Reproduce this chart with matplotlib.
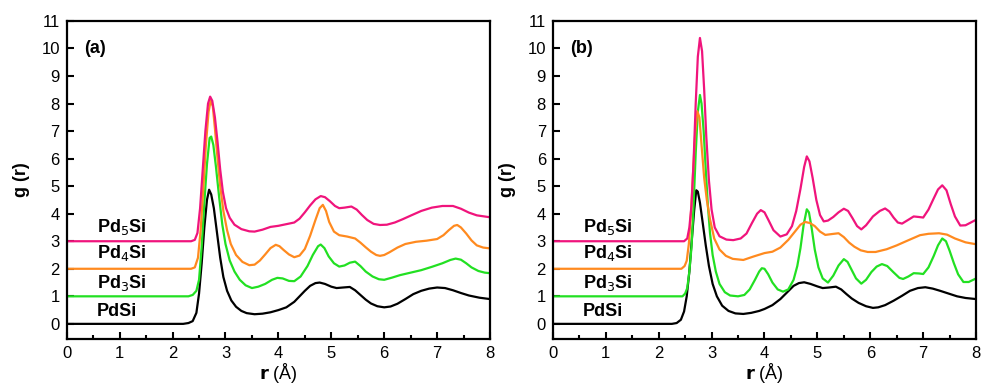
import matplotlib
matplotlib.use('Agg')
from matplotlib import pyplot, rc

rc('font', family=['Liberation Sans', 'DejaVu Sans'], size=12)

# ---- panel (a) ----
a_pdsi_r = [0, 2.2, 2.3, 2.38, 2.45, 2.5, 2.55, 2.6, 2.65, 2.69, 2.73, 2.78,
            2.84, 2.9, 2.96, 3.03, 3.11, 3.2, 3.3, 3.4, 3.55, 3.7, 3.85, 4.0,
            4.15, 4.3, 4.4, 4.5, 4.6, 4.7, 4.78, 4.88, 5.0, 5.1, 5.22, 5.35,
            5.45, 5.55, 5.65, 5.75, 5.87, 6.0, 6.12, 6.25, 6.4, 6.55, 6.7,
            6.85, 7.0, 7.15, 7.3, 7.45, 7.6, 7.8, 8.0]
a_pdsi_g = [0, 0, 0.03, 0.1, 0.4, 1.1, 2.2, 3.5, 4.5, 4.87, 4.7, 4.2,
            3.3, 2.4, 1.7, 1.2, 0.85, 0.62, 0.47, 0.39, 0.35, 0.37, 0.42, 0.5,
            0.6, 0.8, 1.0, 1.2, 1.38, 1.48, 1.5, 1.45, 1.35, 1.3, 1.32, 1.34,
            1.22, 1.05, 0.88, 0.74, 0.64, 0.6, 0.63, 0.73, 0.9, 1.08, 1.2,
            1.28, 1.32, 1.3, 1.22, 1.12, 1.03, 0.95, 0.9]

a_pd3_r = [0, 2.3, 2.38, 2.45, 2.5, 2.55, 2.6, 2.65, 2.7, 2.73, 2.77, 2.82,
           2.88, 2.94, 3.0, 3.08, 3.17, 3.27, 3.38, 3.5, 3.62, 3.75, 3.88,
           3.98, 4.08, 4.2, 4.3, 4.42, 4.55, 4.65, 4.75, 4.8, 4.87, 4.95,
           5.05, 5.15, 5.25, 5.35, 5.45, 5.55, 5.65, 5.78, 5.9, 6.0, 6.15,
           6.3, 6.5, 6.7, 6.9, 7.1, 7.25, 7.35, 7.45, 7.55, 7.65, 7.78, 7.9,
           8.0]
a_pd3_g = [1, 1, 1.05, 1.2, 1.6, 2.8, 4.4, 5.8, 6.75, 6.8, 6.5, 5.7,
           4.6, 3.6, 2.9, 2.3, 1.9, 1.6, 1.4, 1.3, 1.35, 1.45, 1.6,
           1.67, 1.65, 1.56, 1.55, 1.72, 2.1, 2.5, 2.82, 2.88, 2.75, 2.45,
           2.2, 2.08, 2.12, 2.22, 2.26, 2.1, 1.9, 1.72, 1.62, 1.6, 1.68,
           1.77, 1.86, 1.95, 2.07, 2.2, 2.32, 2.37, 2.33, 2.2, 2.05, 1.92, 1.86,
           1.84]

a_pd4_r = [0, 2.35, 2.42, 2.48, 2.53, 2.58, 2.63, 2.68, 2.72, 2.76, 2.8, 2.85,
           2.9, 2.96, 3.03, 3.1, 3.2, 3.32, 3.45, 3.55, 3.65, 3.75, 3.85, 3.95,
           4.02, 4.1, 4.2, 4.3, 4.4, 4.5, 4.6, 4.7, 4.78, 4.84, 4.9, 4.96,
           5.05, 5.15, 5.3, 5.45, 5.55, 5.65, 5.75, 5.85, 5.92, 6.0, 6.1,
           6.25, 6.4, 6.6, 6.8, 7.0, 7.12, 7.22, 7.32, 7.38, 7.45, 7.55, 7.65,
           7.75, 7.87, 8.0]
a_pd4_g = [2, 2, 2.05, 2.4, 3.4, 4.9, 6.5, 7.7, 8.1, 7.9, 7.1, 6.0,
           5.0, 4.1, 3.4, 2.9, 2.5, 2.25, 2.13, 2.15, 2.3, 2.52, 2.75, 2.87,
           2.82, 2.68, 2.52, 2.42, 2.48, 2.72, 3.2, 3.77, 4.2, 4.32, 4.1, 3.7,
           3.35, 3.22, 3.17, 3.1, 2.95, 2.78, 2.62, 2.5, 2.47, 2.5, 2.6,
           2.77, 2.9, 2.98, 3.02, 3.08, 3.22, 3.4, 3.56, 3.59, 3.5, 3.28, 3.03,
           2.85, 2.77, 2.74]

a_pd5_r = [0, 2.35, 2.42, 2.47, 2.52, 2.57, 2.62, 2.67, 2.71, 2.75, 2.8, 2.85,
           2.9, 2.95, 3.01, 3.08, 3.17, 3.3, 3.45, 3.55, 3.7, 3.85, 4.0, 4.15,
           4.3, 4.4, 4.5, 4.6, 4.7, 4.8, 4.88, 4.97, 5.07, 5.15, 5.25, 5.38,
           5.48, 5.58, 5.68, 5.8, 5.92, 6.05, 6.2, 6.35, 6.5, 6.7, 6.9, 7.1,
           7.3, 7.45, 7.6, 7.75, 8.0]
a_pd5_g = [3, 3, 3.05, 3.3, 4.2, 5.6, 7.0, 8.0, 8.25, 8.1, 7.5, 6.6,
           5.6, 4.8, 4.2, 3.85, 3.6, 3.44, 3.36, 3.35, 3.42, 3.52, 3.56, 3.62,
           3.68, 3.82, 4.05, 4.3, 4.52, 4.64, 4.6, 4.46, 4.28, 4.2, 4.22, 4.26,
           4.15, 3.95, 3.77, 3.63, 3.59, 3.6, 3.68, 3.8, 3.93, 4.1, 4.22, 4.28,
           4.28, 4.18, 4.04, 3.94, 3.87]

# ---- panel (b) ----
b_pdsi_r = [0, 2.25, 2.34, 2.42, 2.48, 2.53, 2.58, 2.62, 2.67, 2.71, 2.74,
            2.78, 2.83, 2.89, 2.95, 3.02, 3.1, 3.2, 3.32, 3.45, 3.6, 3.75, 3.9,
            4.0, 4.15, 4.3, 4.42, 4.55, 4.65, 4.75, 4.87, 5.0, 5.1, 5.22, 5.35,
            5.45, 5.55, 5.65, 5.78, 5.92, 6.05, 6.15, 6.28, 6.44, 6.6, 6.75,
            6.9, 7.04, 7.18, 7.32, 7.48, 7.64, 7.8, 8.0]
b_pdsi_g = [0, 0, 0.03, 0.15, 0.45, 1.0, 1.9, 2.9, 4.1, 4.85, 4.8,
            4.4, 3.7, 2.85, 2.1, 1.45, 1.0, 0.66, 0.47, 0.38, 0.36, 0.4, 0.47,
            0.54, 0.68, 0.9, 1.13, 1.38, 1.48, 1.51, 1.45, 1.36, 1.3, 1.32, 1.35,
            1.25, 1.08, 0.92, 0.76, 0.64, 0.58, 0.6, 0.68, 0.84, 1.02, 1.2,
            1.3, 1.33, 1.28, 1.2, 1.1, 1.0, 0.94, 0.9]

b_pd3_r = [0, 2.45, 2.5, 2.54, 2.58, 2.62, 2.66, 2.7, 2.74, 2.78, 2.81, 2.85,
           2.89, 2.93, 2.97, 3.02, 3.08, 3.15, 3.25, 3.35, 3.5, 3.62, 3.72,
           3.82, 3.9, 3.95, 4.0, 4.07, 4.15, 4.25, 4.35, 4.45, 4.55, 4.62,
           4.68, 4.74, 4.8, 4.84, 4.89, 4.95, 5.02, 5.1, 5.2, 5.3, 5.4, 5.5,
           5.57, 5.65, 5.73, 5.83, 5.92, 6.02, 6.12, 6.22, 6.32, 6.44, 6.55,
           6.62, 6.72, 6.82, 6.92, 7.0, 7.1, 7.2, 7.28, 7.36, 7.43, 7.5, 7.58,
           7.66, 7.76, 7.86, 8.0]
b_pd3_g = [1, 1, 1.1, 1.3, 1.9, 2.78, 4.3, 6.2, 7.7, 8.31, 8.0, 7.0,
           5.6, 4.3, 3.3, 2.5, 1.9, 1.45, 1.15, 1.03, 1.0, 1.05, 1.25,
           1.6, 1.9, 2.02, 2.0, 1.8, 1.5, 1.25, 1.17, 1.25, 1.6, 2.1,
           2.75, 3.6, 4.16, 4.05, 3.5, 2.7, 2.05, 1.65, 1.5, 1.75, 2.12, 2.35,
           2.25, 1.95, 1.65, 1.46, 1.6, 1.88, 2.08, 2.17, 2.1, 1.87, 1.67,
           1.63, 1.72, 1.84, 1.83, 1.81, 2.05, 2.47, 2.85, 3.1, 3.0, 2.65, 2.2,
           1.8, 1.52, 1.52, 1.65]

b_pd4_r = [0, 2.43, 2.49, 2.53, 2.57, 2.61, 2.65, 2.69, 2.73, 2.77, 2.81,
           2.86, 2.91, 2.97, 3.05, 3.15, 3.27, 3.4, 3.6, 3.8, 4.0, 4.15, 4.3,
           4.45, 4.58, 4.68, 4.77, 4.86, 4.95, 5.05, 5.15, 5.27, 5.4, 5.5, 5.6,
           5.7, 5.82, 5.95, 6.1, 6.31, 6.5, 6.7, 6.94, 7.1, 7.3, 7.45, 7.6,
           7.8, 8.0]
b_pd4_g = [2, 2, 2.1, 2.29, 2.9, 4.0, 5.5, 6.9, 7.72, 7.5, 6.5,
           5.3, 4.5, 3.8, 3.1, 2.7, 2.47, 2.36, 2.32, 2.45, 2.57, 2.62, 2.77,
           3.05, 3.36, 3.6, 3.7, 3.66, 3.55, 3.35, 3.23, 3.26, 3.29, 3.15, 2.95,
           2.8, 2.67, 2.61, 2.61, 2.71, 2.85, 3.02, 3.22, 3.27, 3.29, 3.24, 3.1,
           2.96, 2.89]

b_pd5_r = [0, 2.48, 2.54, 2.58, 2.62, 2.66, 2.7, 2.74, 2.78, 2.82, 2.86, 2.9,
           2.95, 3.0, 3.06, 3.15, 3.28, 3.41, 3.55, 3.66, 3.76, 3.86, 3.93, 4.0,
           4.08, 4.17, 4.3, 4.42, 4.52, 4.6, 4.68, 4.75, 4.8, 4.85, 4.91, 4.98,
           5.05, 5.12, 5.2, 5.3, 5.4, 5.5, 5.58, 5.66, 5.75, 5.83, 5.92, 6.05,
           6.18, 6.28, 6.36, 6.44, 6.52, 6.6, 6.72, 6.82, 6.92, 7.0, 7.1, 7.19,
           7.28, 7.36, 7.44, 7.52, 7.6, 7.7, 7.8, 7.9, 8.0]
b_pd5_g = [3, 3, 3.1, 3.5, 4.3, 5.9, 8.0, 9.7, 10.38, 9.9, 8.5, 6.8,
           5.2, 4.15, 3.5, 3.18, 3.06, 3.04, 3.1, 3.28, 3.65, 4.0, 4.13, 4.05,
           3.75, 3.4, 3.17, 3.25, 3.55, 4.1, 4.9, 5.7, 6.08, 5.9, 5.3, 4.5,
           3.95, 3.72, 3.75, 3.88, 4.05, 4.18, 4.1, 3.85, 3.55, 3.43, 3.58, 3.9,
           4.1, 4.19, 4.08, 3.86, 3.68, 3.64, 3.78, 3.9, 3.88, 3.86, 4.15, 4.52,
           4.88, 5.03, 4.85, 4.35, 3.9, 3.57, 3.58, 3.68, 3.78]

names = ['PdSi', 'Pd$_3$Si', 'Pd$_4$Si', 'Pd$_5$Si']
colors = ['#000000', '#22e022', '#ff8a1f', '#f0147c']
label_y = [0.45, 1.5, 2.58, 3.5]

panels = [
    ('(a)', [(a_pdsi_r, a_pdsi_g), (a_pd3_r, a_pd3_g),
             (a_pd4_r, a_pd4_g), (a_pd5_r, a_pd5_g)]),
    ('(b)', [(b_pdsi_r, b_pdsi_g), (b_pd3_r, b_pd3_g),
             (b_pd4_r, b_pd4_g), (b_pd5_r, b_pd5_g)]),
]

figure = pyplot.figure(figsize=(9.82, 3.87), dpi=100)
lefts = [0.068, 0.563]
for left, (tag, curves) in zip(lefts, panels):
    plot = figure.add_axes([left, 0.124, 0.431, 0.822])
    for (r, g), color in zip(curves, colors):
        plot.plot(r, g, color=color, lw=1.6, solid_joinstyle='round',
                  solid_capstyle='round')
    for name, y in zip(names, label_y):
        plot.text(0.57, y, name, fontsize=13, fontweight='bold',
                  va='center', ha='left')
    plot.text(0.33, 10.0, tag, fontsize=13, fontweight='bold',
              va='center', ha='left')
    plot.set_xlim(0, 8)
    plot.set_ylim(-0.55, 11)
    plot.set_xticks(range(0, 9))
    plot.set_xticks([i + 0.5 for i in range(8)], minor=True)
    plot.set_yticks(range(0, 12))
    plot.tick_params(which='both', direction='in', top=False, right=False,
                     width=1.5, labelsize=12)
    plot.tick_params(which='major', length=5, pad=5)
    plot.tick_params(which='minor', length=3)
    for spine in plot.spines.values():
        spine.set_linewidth(1.6)
    plot.set_xlabel(r'$\mathbf{r}$ (Å)', fontsize=13, labelpad=0)
    plot.set_ylabel('g (r)', fontsize=13, fontweight='bold', labelpad=8)

figure.savefig('out.png', dpi=100)
